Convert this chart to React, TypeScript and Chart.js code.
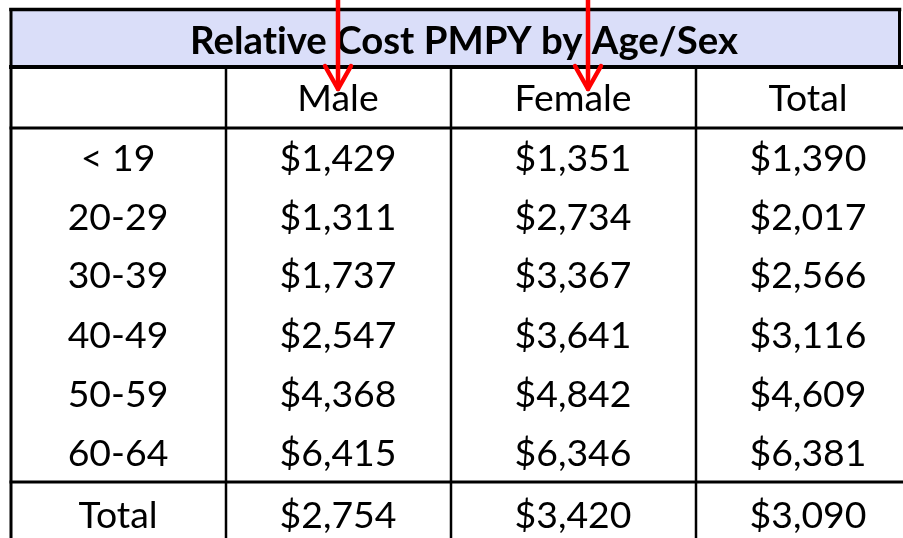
import React, { useEffect, useRef } from 'react';
import { Chart, registerables } from 'chart.js';

Chart.register(...registerables);

// ---------- data ----------
const title = 'Relative Cost PMPY by Age/Sex';
const columnHeaders = ['', 'Male', 'Female', 'Total'];
const ageGroups = ['< 19', '20-29', '30-39', '40-49', '50-59', '60-64', 'Total'];
const maleCost = [1429, 1311, 1737, 2547, 4368, 6415, 2754];
const femaleCost = [1351, 2734, 3367, 3641, 4842, 6346, 3420];
const totalCost = [1390, 2017, 2566, 3116, 4609, 6381, 3090];
const arrowedColumns = ['Male', 'Female'];

// ---------- layout (scale units == canvas pixels) ----------
const W = 903;
const H = 538;
const LEFT = 11;
const RIGHT_HEADER = 899.5;
const COL_LINES = [226, 451, 696];
const COL_CENTERS = [118, 338, 573, 808];
const HEADER_TOP = 9.5;
const HEADER_BOTTOM = 67;
const SUB_BOTTOM = 128;
const TOTAL_LINE = 482;
const TITLE_X = 464;
const TITLE_Y = 40;
const SUB_Y = 98;
const ROW_Y = [158, 217, 275, 335, 394, 453, 515];
const ARROW_X: Record<string, number> = { Male: 338, Female: 588 };
const ARROW_TIP = 89;
const ARROW_WING_W = 13;
const ARROW_WING_H = 23;
const FONT = 'Lato, Calibri, "Open Sans", sans-serif';
const HEADER_FILL = '#DADEF9';

const money = (n: number) => '$' + n.toLocaleString('en-US');

function fitSize(ctx: CanvasRenderingContext2D, text: string, width: number, weight: string) {
  ctx.font = `${weight} 100px ${FONT}`;
  const w = ctx.measureText(text).width;
  return (100 * width) / w;
}

const tablePlugin = {
  id: 'tablePlugin',
  beforeDraw(chart: any) {
    const { ctx, scales } = chart;
    const x = (v: number) => scales.x.getPixelForValue(v);
    const y = (v: number) => scales.y.getPixelForValue(v);
    ctx.save();
    ctx.fillStyle = '#ffffff';
    ctx.fillRect(0, 0, chart.width, chart.height);
    // header band
    ctx.fillStyle = HEADER_FILL;
    ctx.fillRect(x(LEFT), y(HEADER_TOP), x(RIGHT_HEADER) - x(LEFT), y(HEADER_BOTTOM) - y(HEADER_TOP));
    ctx.strokeStyle = '#000';
    ctx.lineCap = 'square';
    const line = (x1: number, y1: number, x2: number, y2: number, w: number) => {
      ctx.lineWidth = w;
      ctx.beginPath();
      ctx.moveTo(x(x1), y(y1));
      ctx.lineTo(x(x2), y(y2));
      ctx.stroke();
    };
    // header box
    line(LEFT, HEADER_TOP, RIGHT_HEADER, HEADER_TOP, 3.5);
    line(RIGHT_HEADER, HEADER_TOP, RIGHT_HEADER, HEADER_BOTTOM, 3);
    line(LEFT, HEADER_BOTTOM, W + 2, HEADER_BOTTOM, 4);
    // left border
    line(LEFT, HEADER_TOP, LEFT, H + 2, 3);
    // column lines
    COL_LINES.forEach((c) => line(c, HEADER_BOTTOM, c, H + 2, 2.5));
    // horizontal lines
    line(LEFT, SUB_BOTTOM, W + 2, SUB_BOTTOM, 3);
    line(LEFT, TOTAL_LINE, W + 2, TOTAL_LINE, 3);
    ctx.restore();
  },
  afterDatasetsDraw(chart: any) {
    const { ctx, scales } = chart;
    const x = (v: number) => scales.x.getPixelForValue(v);
    const y = (v: number) => scales.y.getPixelForValue(v);
    ctx.save();
    ctx.fillStyle = '#000';
    ctx.textAlign = 'center';
    ctx.textBaseline = 'alphabetic';
    try {
      (ctx as any).letterSpacing = '0.01px';
    } catch (e) {
      /* ignore */
    }

    // title
    const tSize = fitSize(ctx, title, 548, 'bold');
    ctx.font = `bold ${tSize}px ${FONT}`;
    let capH = ctx.measureText('H').actualBoundingBoxAscent;
    ctx.fillText(title, x(TITLE_X), y(TITLE_Y) + capH / 2);

    // body font
    const bSize = fitSize(ctx, '$1,429', 117, 'normal');
    ctx.font = `normal ${bSize}px ${FONT}`;
    capH = ctx.measureText('H').actualBoundingBoxAscent;

    // column headers
    columnHeaders.forEach((h, i) => {
      if (!h) return;
      ctx.fillText(h, x(COL_CENTERS[i]), y(SUB_Y) + capH / 2);
    });

    // cells from dataset elements
    chart.data.datasets.forEach((ds: any, di: number) => {
      const meta = chart.getDatasetMeta(di);
      meta.data.forEach((el: any, i: number) => {
        const label = ds.labels[i];
        ctx.fillText(label, el.x, el.y + capH / 2);
      });
    });

    // red arrows
    ctx.strokeStyle = '#FF0000';
    ctx.lineWidth = 4.5;
    ctx.lineCap = 'round';
    ctx.lineJoin = 'round';
    arrowedColumns.forEach((c) => {
      const ax = x(ARROW_X[c]);
      ctx.beginPath();
      ctx.moveTo(ax, y(0) - 3);
      ctx.lineTo(ax, y(ARROW_TIP));
      ctx.stroke();
      ctx.beginPath();
      ctx.moveTo(ax - ARROW_WING_W, y(ARROW_TIP - ARROW_WING_H));
      ctx.lineTo(ax, y(ARROW_TIP));
      ctx.lineTo(ax + ARROW_WING_W, y(ARROW_TIP - ARROW_WING_H));
      ctx.stroke();
    });
    ctx.restore();
  },
};

export default function App() {
  const ref = useRef<HTMLCanvasElement | null>(null);
  useEffect(() => {
    if (!ref.current) return;
    const columns = [
      ageGroups,
      maleCost.map(money),
      femaleCost.map(money),
      totalCost.map(money),
    ];
    const datasets = columns.map((labels, ci) => ({
      label: columnHeaders[ci] || 'Age',
      labels,
      data: labels.map((_, ri) => ({ x: COL_CENTERS[ci], y: ROW_Y[ri] })),
      pointRadius: 0,
      pointHoverRadius: 0,
      showLine: false,
    }));
    const chart = new Chart(ref.current, {
      type: 'scatter',
      data: { datasets: datasets as any },
      options: {
        animation: false,
        responsive: true,
        maintainAspectRatio: false,
        layout: { padding: 0 },
        events: [],
        plugins: { legend: { display: false }, tooltip: { enabled: false }, title: { display: false } },
        scales: {
          x: { type: 'linear', min: 0, max: W, display: false },
          y: { type: 'linear', min: 0, max: H, reverse: true, display: false },
        },
      },
      plugins: [tablePlugin],
    });
    return () => chart.destroy();
  }, []);
  return (
    <div style={{ position: 'absolute', left: 0, top: 0, width: W, height: H, background: '#fff' }}>
      <canvas ref={ref} />
    </div>
  );
}
